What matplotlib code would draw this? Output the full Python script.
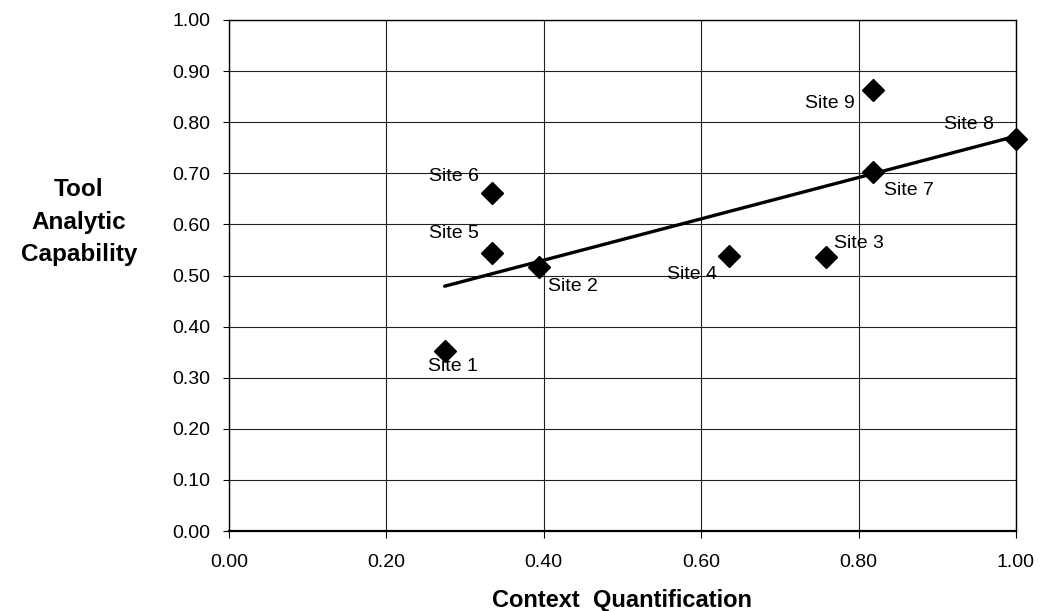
import matplotlib
matplotlib.use("Agg")
import matplotlib.pyplot as plt
import numpy as np

plt.rcParams['font.family'] = ['Liberation Sans', 'DejaVu Sans']

sites = ["Site 1", "Site 2", "Site 3", "Site 4", "Site 5", "Site 6", "Site 7", "Site 8", "Site 9"]
context_q = [0.274, 0.394, 0.758, 0.635, 0.334, 0.334, 0.818, 1.00, 0.818]
tool_cap = [0.353, 0.516, 0.537, 0.539, 0.545, 0.661, 0.703, 0.767, 0.863]
# label offsets in pixels (dx, dy)
label_offsets = [(8, -16), (34, -19), (33, 13), (-37, -19), (-38, 19),
                 (-38, 17), (36, -19), (-47, 15), (-43, -13)]
xticks = [0.0, 0.2, 0.4, 0.6, 0.8, 1.0]
yticks = [0.0, 0.1, 0.2, 0.3, 0.4, 0.5, 0.6, 0.7, 0.8, 0.9, 1.0]

fig = plt.figure(figsize=(10.41, 6.11), dpi=100)
ax = fig.add_axes([229/1041, 1 - 531/611, (1016-229)/1041, (531-20)/611])

ax.set_xlim(0, 1)
ax.set_ylim(0, 1)
ax.set_xticks(xticks)
ax.set_yticks(yticks)
ax.set_xticklabels([f"{t:.2f}" for t in xticks], fontsize=14)
ax.set_yticklabels([f"{t:.2f}" for t in yticks], fontsize=14)
ax.tick_params(axis='x', direction='out', length=5, width=0.8, pad=11.5)
ax.tick_params(axis='y', direction='out', length=4, width=0.8, pad=9.5)
ax.grid(True, color='#222222', linewidth=0.8)
ax.set_axisbelow(True)
for s in ax.spines.values():
    s.set_color('black')
    s.set_linewidth(1.0)
ax.spines['bottom'].set_linewidth(1.6)

# trend line (least squares)
x = np.array(context_q)
y = np.array(tool_cap)
m, b = np.polyfit(x, y, 1)
xs = np.array([x.min(), x.max()])
ax.plot(xs, m * xs + b, color='black', linewidth=2.4, zorder=3, solid_capstyle='round')

ax.plot(x, y, linestyle='none', marker='D', markersize=11, color='black', zorder=4, clip_on=False)

for name, xi, yi, off in zip(sites, context_q, tool_cap, label_offsets):
    ax.annotate(name, (xi, yi), xytext=off, textcoords='offset pixels',
                ha='center', va='center', fontsize=14, zorder=5)

fig.text(622/1041, 1 - 600/611, "Context  Quantification", ha='center', va='center',
         fontsize=17, fontweight='bold')
fig.text(79/1041, 1 - 222/611, "Tool\nAnalytic\nCapability", ha='center', va='center',
         fontsize=17.5, fontweight='bold', linespacing=1.5)

fig.savefig("out.png", dpi=100)
